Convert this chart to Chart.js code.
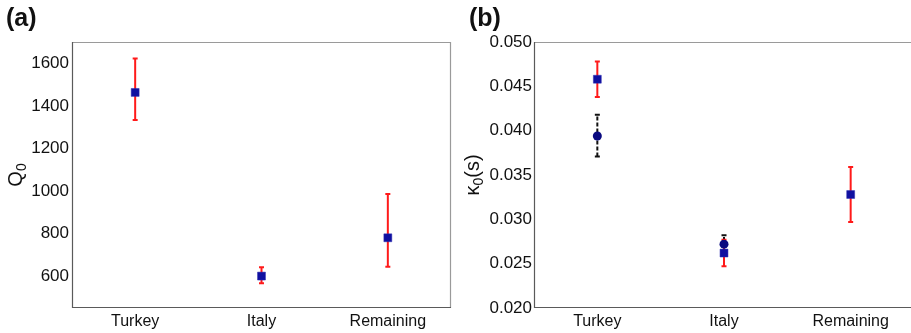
<!DOCTYPE html>
<html>
<head>
<meta charset="utf-8">
<script src="https://cdn.jsdelivr.net/npm/chart.js@4.4.1/dist/chart.umd.min.js"></script>
<style>
  html, body { margin: 0; padding: 0; background: #fff; overflow: hidden; }
  #wrap { position: relative; width: 911px; height: 333px; overflow: hidden; }
  .panel { position: absolute; top: 0; height: 333px; }
  #pa { left: 0; width: 455px; }
  #pb { left: 455px; width: 470px; }
  .tag { position: absolute; top: 3px; font: bold 25px "Liberation Sans", Arial, sans-serif; color: #111; }
</style>
</head>
<body>
<div id="wrap">
  <div class="panel" id="pa"><canvas id="ca" width="455" height="333"></canvas></div>
  <div class="panel" id="pb"><canvas id="cb" width="470" height="333"></canvas></div>
  <div class="tag" style="left:6px">(a)</div>
  <div class="tag" style="left:469px">(b)</div>
</div>
<script>
// Regions
const categories = ['Turkey', 'Italy', 'Remaining'];

// Panel (a): quality factor Q0 with uncertainty range
const q0Values = [1463, 600, 780];
const q0Low    = [1333, 566, 644];
const q0High   = [1623, 641, 986];
const q0Ticks  = [600, 800, 1000, 1200, 1400, 1600];

// Panel (b): kappa0 (s) — two estimates per region
const kappaSquare     = [0.0458, 0.0262, 0.0328];
const kappaSquareLow  = [0.0438, 0.0247, 0.0297];
const kappaSquareHigh = [0.0478, 0.0277, 0.0359];
const kappaCircle     = [0.0394, 0.0272, null];
const kappaCircleLow  = [0.0371, 0.0262, null];
const kappaCircleHigh = [0.0418, 0.0282, null];
const kappaTicks = [0.020, 0.025, 0.030, 0.035, 0.040, 0.045, 0.050];

const FONT = '"Liberation Sans", Arial, sans-serif';

// Error bars drawn through the chart's own scales
const errorBars = {
  id: 'errorBars',
  beforeDatasetsDraw(chart) {
    const { ctx, scales: { x, y } } = chart;
    chart.data.datasets.forEach(ds => {
      const eb = ds.errorBars;
      if (!eb) return;
      ctx.save();
      ctx.strokeStyle = eb.color;
      ctx.lineWidth = 2;
      ds.data.forEach((v, i) => {
        if (v == null) return;
        const px = x.getPixelForValue(i);
        const yl = y.getPixelForValue(eb.low[i]);
        const yh = y.getPixelForValue(eb.high[i]);
        ctx.setLineDash(eb.dash || []);
        ctx.beginPath();
        ctx.moveTo(px, yl); ctx.lineTo(px, yh);
        ctx.stroke();
        ctx.setLineDash([]);
        ctx.beginPath();
        ctx.moveTo(px - 2.5, yl); ctx.lineTo(px + 2.5, yl);
        ctx.moveTo(px - 2.5, yh); ctx.lineTo(px + 2.5, yh);
        ctx.stroke();
      });
      ctx.restore();
    });
  }
};

// Plot frame: darker left/bottom axes, lighter top/right
const frame = {
  id: 'frame',
  beforeDatasetsDraw(chart, args, opts) {
    const { ctx, chartArea: a } = chart;
    ctx.save();
    ctx.lineWidth = 1.2;
    ctx.strokeStyle = '#9a9a9a';
    ctx.beginPath();
    ctx.moveTo(a.left, a.top + 0.5); ctx.lineTo(a.right, a.top + 0.5);
    if (opts.rightEdge !== false) {
      ctx.moveTo(a.right - 0.5, a.top); ctx.lineTo(a.right - 0.5, a.bottom);
    }
    ctx.stroke();
    ctx.strokeStyle = '#5a5a5a';
    ctx.beginPath();
    ctx.moveTo(a.left + 0.5, a.top); ctx.lineTo(a.left + 0.5, a.bottom);
    ctx.moveTo(a.left, a.bottom - 0.5); ctx.lineTo(a.right, a.bottom - 0.5);
    ctx.stroke();
    ctx.restore();
  }
};

// Vertical axis title with a subscript, e.g. Q0 or kappa0(s)
const axisTitle = {
  id: 'axisTitle',
  afterDraw(chart, args, opts) {
    const { ctx, chartArea: a } = chart;
    const parts = opts.parts;
    ctx.save();
    ctx.translate(opts.x, (a.top + a.bottom) / 2);
    ctx.rotate(-Math.PI / 2);
    ctx.fillStyle = '#111';
    ctx.textBaseline = 'alphabetic';
    let total = 0;
    parts.forEach(p => {
      ctx.font = (p.sub ? 14 : 20) + 'px ' + FONT;
      total += ctx.measureText(p.t).width;
    });
    let cx = -total / 2;
    parts.forEach(p => {
      ctx.font = (p.sub ? 14 : 20) + 'px ' + FONT;
      ctx.fillText(p.t, cx, p.sub ? 11 : 7);
      cx += ctx.measureText(p.t).width;
    });
    ctx.restore();
  }
};

function makeOptions(cfg) {
  return {
    responsive: false,
    animation: false,
    events: [],
    layout: { autoPadding: false, padding: { top: 42, right: cfg.padRight, left: 0, bottom: 0 } },
    plugins: {
      legend: { display: false }, tooltip: { enabled: false },
      axisTitle: { x: cfg.titleX, parts: cfg.titleParts },
      frame: { rightEdge: cfg.rightEdge }
    },
    scales: {
      x: {
        type: 'category',
        offset: true,
        grid: { display: false, drawTicks: false },
        border: { display: false },
        ticks: { color: '#111', font: { family: FONT, size: 16 }, padding: 4, maxRotation: 0 },
        afterFit(s) { s.height = 25; }
      },
      y: {
        min: cfg.min, max: cfg.max,
        grid: { display: false, drawTicks: false },
        border: { display: false },
        afterBuildTicks(s) { s.ticks = cfg.ticks.map(v => ({ value: v })); },
        ticks: {
          color: '#111', font: { family: FONT, size: 17 }, padding: cfg.tickPad,
          callback: cfg.fmt
        },
        afterFit(s) { s.width = cfg.axisWidth; }
      }
    }
  };
}

new Chart(document.getElementById('ca'), {
  type: 'line',
  data: {
    labels: categories,
    datasets: [{
      data: q0Values,
      showLine: false,
      pointStyle: 'rect',
      pointRadius: 5.6,
      pointBackgroundColor: '#1010a0',
      pointBorderColor: '#2a2ab0',
      pointBorderWidth: 0.5,
      errorBars: { low: q0Low, high: q0High, color: '#ff1a1a' }
    }]
  },
  options: makeOptions({
    min: 450, max: 1700, ticks: q0Ticks, fmt: v => String(v),
    titleX: 15, titleParts: [{ t: 'Q' }, { t: '0', sub: true }],
    axisWidth: 72, padRight: 4, tickPad: 3, rightEdge: true
  }),
  plugins: [frame, errorBars, axisTitle]
});

new Chart(document.getElementById('cb'), {
  type: 'line',
  data: {
    labels: categories,
    datasets: [{
      data: kappaCircle,
      showLine: false,
      pointStyle: 'circle',
      pointRadius: 4.5,
      pointBackgroundColor: '#0a0a80',
      pointBorderColor: '#0a0a80',
      pointBorderWidth: 0,
      errorBars: { low: kappaCircleLow, high: kappaCircleHigh, color: '#111', dash: [4, 2] }
    }, {
      data: kappaSquare,
      showLine: false,
      pointStyle: 'rect',
      pointRadius: 5.6,
      pointBackgroundColor: '#1010a0',
      pointBorderColor: '#2a2ab0',
      pointBorderWidth: 0.5,
      errorBars: { low: kappaSquareLow, high: kappaSquareHigh, color: '#ff1a1a' }
    }]
  },
  options: makeOptions({
    min: 0.020, max: 0.050, ticks: kappaTicks, fmt: v => v.toFixed(3),
    titleX: 17, titleParts: [{ t: 'κ' }, { t: '0', sub: true }, { t: '(s)' }],
    axisWidth: 79, padRight: 11, tickPad: 2, rightEdge: false
  }),
  plugins: [frame, errorBars, axisTitle]
});
</script>
</body>
</html>
